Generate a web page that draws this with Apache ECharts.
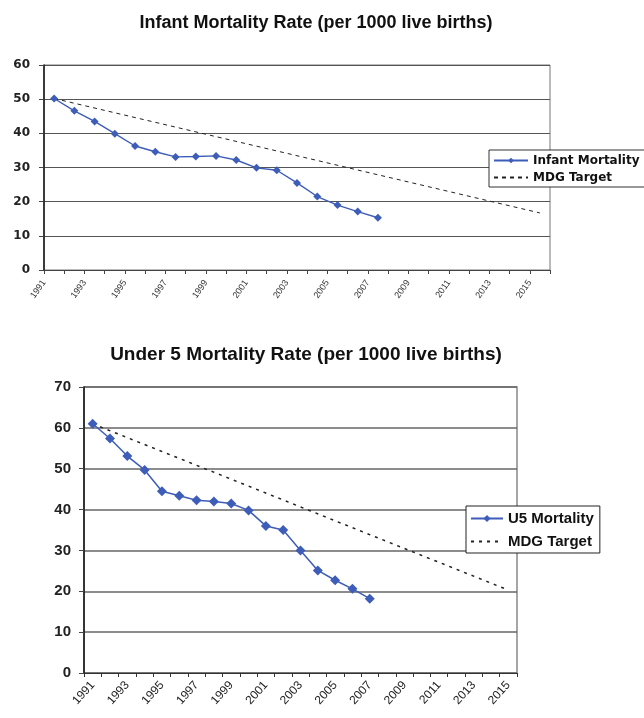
<!DOCTYPE html>
<html>
<head>
<meta charset="utf-8">
<script src="https://cdn.jsdelivr.net/npm/echarts@6/dist/echarts.min.js"></script>
<style>
html,body{margin:0;padding:0;background:#fff;}
#c{width:644px;height:718px;}
</style>
</head>
<body>
<div id="c"></div>
<script>
// ---- data ----
var years = ['1991','1992','1993','1994','1995','1996','1997','1998','1999','2000','2001','2002','2003','2004','2005','2006','2007','2008','2009','2010','2011','2012','2013','2014','2015'];
var infantMortality = [50.2,46.6,43.5,39.9,36.3,34.6,33.1,33.2,33.4,32.2,29.9,29.2,25.5,21.5,19.0,17.1,15.3];
var infantTarget = [50.2,null,null,null,null,null,null,null,null,null,null,null,null,null,null,null,null,null,null,null,null,null,null,null,16.7];
var u5Mortality = [61.0,57.4,53.1,49.7,44.5,43.4,42.3,42.0,41.5,39.8,36.0,35.0,30.0,25.1,22.7,20.6,18.2];
var u5Target = [61.0,null,null,null,null,null,null,null,null,null,null,null,null,null,null,null,null,null,null,null,null,null,null,null,20.3];
var topTickLabels = years.concat(['']);
var topTitle = 'Infant Mortality Rate (per 1000 live births)';
var bottomTitle = 'Under 5 Mortality Rate (per 1000 live births)';

var blue = '#3D5DB8';
var font = 'Liberation Sans, Arial, sans-serif';
var wideFont = 'DejaVu Sans, Verdana, sans-serif';

var chart = echarts.init(document.getElementById('c'), null, {renderer:'canvas'});
chart.setOption({
  animation:false,
  backgroundColor:'#fff',
  title:[
    {text:topTitle, left:311, top:9, textAlign:'center',
     textStyle:{fontFamily:font, fontSize:18, fontWeight:'bold', color:'#111'}},
    {text:bottomTitle, left:301, top:340, textAlign:'center',
     textStyle:{fontFamily:font, fontSize:19, fontWeight:'bold', color:'#111'}}
  ],
  legend:[
    {orient:'vertical', left:489, top:150, itemWidth:34, itemHeight:7, itemGap:4,
     padding:[4,6,3,4], backgroundColor:'#fff', borderColor:'#333', borderWidth:1,
     data:[{name:'Infant Mortality'},{name:'MDG Target ', itemStyle:{opacity:0}}],
     textStyle:{fontFamily:wideFont, fontSize:12, lineHeight:13, fontWeight:'bold', color:'#111'}},
    {orient:'vertical', left:466, top:506, itemWidth:32, itemHeight:9, itemGap:8,
     padding:[5,6,4,4], backgroundColor:'#fff', borderColor:'#222', borderWidth:1,
     data:[{name:'U5 Mortality'},{name:'MDG Target', itemStyle:{opacity:0}}],
     textStyle:{fontFamily:font, fontSize:15, fontWeight:'bold', color:'#111'}}
  ],
  grid:[
    {left:44, top:65, width:506, height:205, show:true, borderColor:'#777', borderWidth:1, backgroundColor:'#fff'},
    {left:84, top:387, width:433, height:286, show:true, borderColor:'#888', borderWidth:1.5, backgroundColor:'#fff'}
  ],
  xAxis:[
    {gridIndex:0, type:'category', data:years, boundaryGap:true,
     axisLine:{lineStyle:{color:'#444', width:1}},
     axisTick:{show:true, interval:0, length:4, lineStyle:{color:'#444'}},
     axisLabel:{show:false}},
    {gridIndex:0, type:'category', data:topTickLabels, boundaryGap:false, position:'bottom',
     axisLine:{show:false}, axisTick:{show:false},
     axisLabel:{interval:1, rotate:55, margin:11, fontFamily:font, fontSize:9, color:'#333'}},
    {gridIndex:1, type:'category', data:years, boundaryGap:true,
     axisLine:{lineStyle:{color:'#333', width:1.2}},
     axisTick:{show:true, interval:0, length:4, lineStyle:{color:'#333'}},
     axisLabel:{interval:1, rotate:48, margin:10, fontFamily:font, fontSize:12, color:'#222'}}
  ],
  yAxis:[
    {gridIndex:0, type:'value', min:0, max:60, interval:10,
     axisLine:{show:true, lineStyle:{color:'#111', width:1.5}},
     axisTick:{show:true, length:5, lineStyle:{color:'#444'}},
     splitLine:{lineStyle:{color:'#555', width:1.2}},
     axisLabel:{margin:14, fontFamily:wideFont, fontSize:12, fontWeight:'bold', color:'#222'}},
    {gridIndex:1, type:'value', min:0, max:70, interval:10,
     axisLine:{show:true, lineStyle:{color:'#111', width:1.5}},
     axisTick:{show:true, length:5, lineStyle:{color:'#444'}},
     splitLine:{lineStyle:{color:'#666', width:1.5}},
     axisLabel:{margin:13, fontFamily:font, fontSize:15, fontWeight:'bold', color:'#222'}}
  ],
  series:[
    {name:'Infant Mortality', type:'line', xAxisIndex:0, yAxisIndex:0, data:infantMortality,
     symbol:'diamond', symbolSize:8, itemStyle:{color:blue}, lineStyle:{color:blue, width:1.4}, z:3},
    {name:'MDG Target ', type:'line', xAxisIndex:0, yAxisIndex:0, data:infantTarget, connectNulls:true,
     showSymbol:false, symbol:'none', itemStyle:{color:'#222'}, lineStyle:{color:'#222', width:1, type:[4,4]}, z:2},
    {name:'U5 Mortality', type:'line', xAxisIndex:2, yAxisIndex:1, data:u5Mortality,
     symbol:'diamond', symbolSize:10, itemStyle:{color:blue}, lineStyle:{color:blue, width:1.5}, z:3},
    {name:'MDG Target', type:'line', xAxisIndex:2, yAxisIndex:1, data:u5Target, connectNulls:true,
     showSymbol:false, symbol:'none', itemStyle:{color:'#222'}, lineStyle:{color:'#222', width:1.5, type:[3,5]}, z:2}
  ]
});
</script>
</body>
</html>
